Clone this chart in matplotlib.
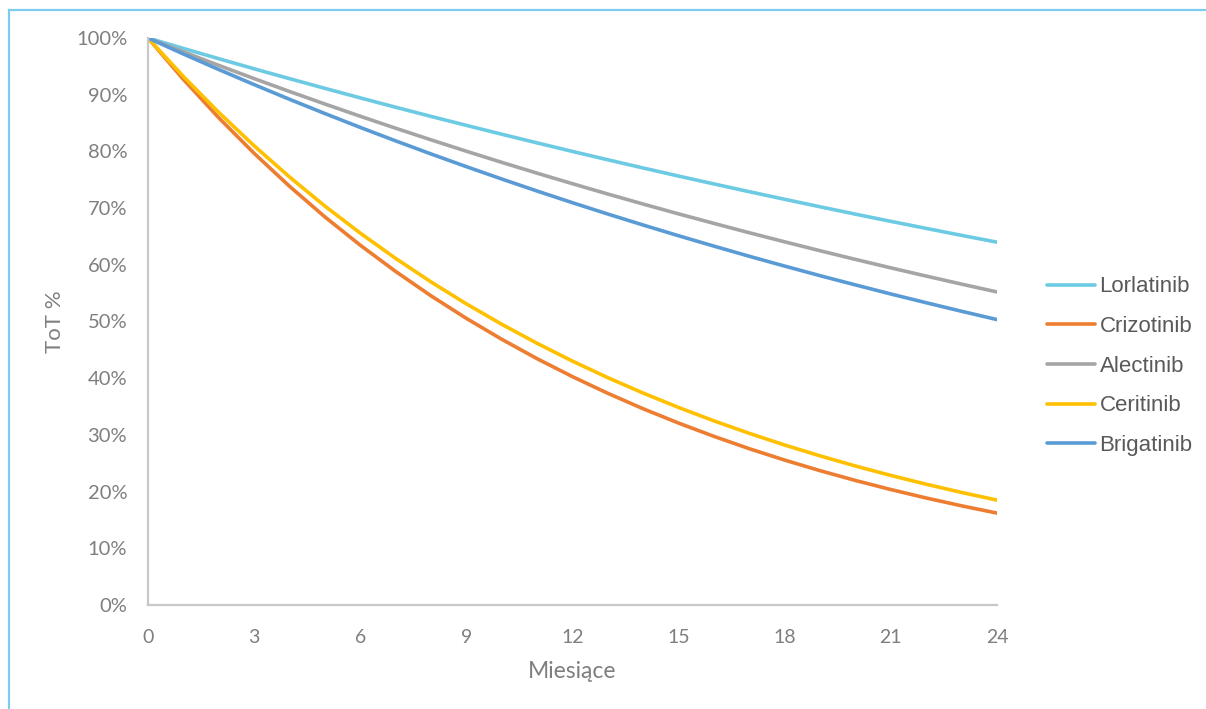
import matplotlib
matplotlib.use("Agg")
from matplotlib import pyplot as plt
from matplotlib.lines import Line2D
from matplotlib.ticker import PercentFormatter

months = list(range(0, 25))

lorlatinib = [100, 98.16, 96.35, 94.57, 92.83, 91.12, 89.44, 87.79, 86.17, 84.59,
              83.03, 81.50, 79.99, 78.52, 77.07, 75.65, 74.26, 72.89, 71.55, 70.23,
              68.93, 67.66, 66.42, 65.19, 63.99]
crizotinib = [100, 92.70, 85.93, 79.66, 73.85, 68.45, 63.46, 58.83, 54.53, 50.55,
              46.86, 43.44, 40.27, 37.33, 34.60, 32.08, 29.74, 27.56, 25.55, 23.69,
              21.96, 20.36, 18.87, 17.49, 16.21]
alectinib = [100, 97.56, 95.17, 92.84, 90.57, 88.36, 86.20, 84.09, 82.04, 80.03,
             78.07, 76.16, 74.30, 72.48, 70.71, 68.98, 67.30, 65.65, 64.05, 62.48,
             60.95, 59.46, 58.01, 56.59, 55.21]
ceritinib = [100, 93.21, 86.88, 80.99, 75.49, 70.36, 65.59, 61.13, 56.98, 53.11,
             49.51, 46.15, 43.01, 40.09, 37.37, 34.84, 32.47, 30.27, 28.21, 26.30,
             24.51, 22.85, 21.30, 19.85, 18.50]
brigatinib = [100, 97.18, 94.44, 91.78, 89.19, 86.68, 84.23, 81.86, 79.55, 77.31,
              75.13, 73.01, 70.95, 68.95, 67.01, 65.12, 63.29, 61.50, 59.77, 58.08,
              56.45, 54.85, 53.31, 51.80, 50.34]

names = ["Lorlatinib", "Crizotinib", "Alectinib", "Ceritinib", "Brigatinib"]
series = [lorlatinib, crizotinib, alectinib, ceritinib, brigatinib]
colors = ["#6CCBE3", "#ED7D31", "#A5A5A5", "#FFC000", "#5B9BD5"]

xticks = list(range(0, 25, 3))
yticks = list(range(0, 101, 10))

plt.rcParams['font.family'] = ['Lato', 'DejaVu Sans']

fig = plt.figure(figsize=(12.06, 7.09), dpi=100)
ax = fig.add_axes([148/1206, 1-605/709, (997-148)/1206, (605-38)/709])

for name, s, c in zip(names, series, colors):
    ax.plot(months, s, color=c, lw=2.6, label=name, solid_capstyle='round')

ax.set_xlim(0, 24)
ax.set_ylim(0, 100)
ax.set_xticks(xticks)
ax.set_yticks(yticks)
ax.yaxis.set_major_formatter(PercentFormatter(decimals=0))
ax.tick_params(length=0, labelcolor="#7F7F7F")
ax.tick_params(axis='y', labelsize=14.5, pad=15)
ax.tick_params(axis='x', labelsize=14, pad=17)
for sp in ["top", "right"]:
    ax.spines[sp].set_visible(False)
for sp in ["left", "bottom"]:
    ax.spines[sp].set_color("#C8C8C8")
    ax.spines[sp].set_linewidth(1.6)

ax.set_xlabel("Miesiące", fontsize=16.5, color="#7F7F7F", labelpad=11)
ax.set_ylabel("ToT %", fontsize=16, color="#7F7F7F", labelpad=8)

leg = ax.legend(loc="center left", bbox_to_anchor=(1.059, 0.421), frameon=False,
                fontsize=16, handlelength=2.16, handletextpad=0.2,
                labelspacing=0.84, borderaxespad=0, borderpad=0)
for t in leg.get_texts():
    t.set_color("#595959")
    t.set_family(['Liberation Sans', 'DejaVu Sans'])

# chart frame (left and top edges visible)
fig.add_artist(Line2D([8.5/1206, 8.5/1206], [0, 1-9.5/709], color="#7DCCEE", lw=1.6))
fig.add_artist(Line2D([8.5/1206, 1], [1-9.5/709, 1-9.5/709], color="#7DCCEE", lw=1.6))

fig.savefig("out.png", dpi=100)
